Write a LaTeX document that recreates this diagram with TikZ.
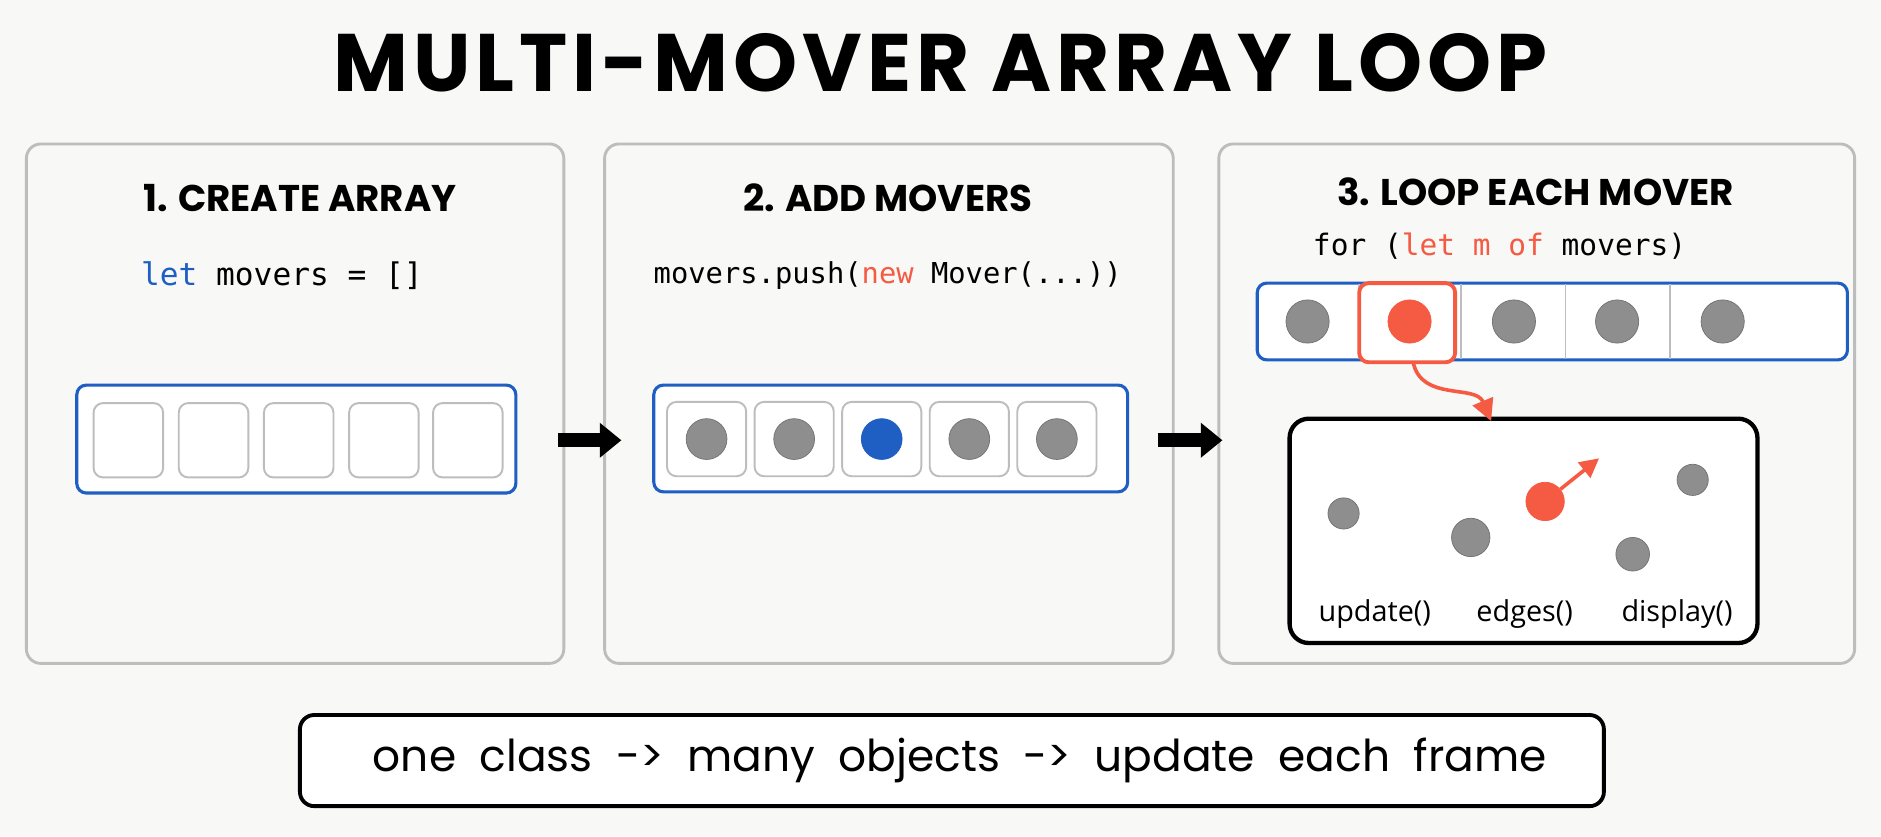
\documentclass[tikz,border=0pt]{standalone}
\usepackage{fontspec}
\setmainfont{Poppins}
\setmonofont{DejaVu Sans Mono}
\newfontfamily\lab{Open Sans}
\newfontfamily\ttl[LetterSpace=6]{Poppins}
\usetikzlibrary{arrows.meta}
\definecolor{bg}{HTML}{F8F8F6}
\definecolor{pan}{HTML}{BDBDBD}
\definecolor{blu}{HTML}{1F5FC4}
\definecolor{dotg}{HTML}{8E8E8E}
\definecolor{org}{HTML}{F55A42}
\begin{document}
\begin{tikzpicture}[x=0.5pt,y=-0.5pt,
 panel/.style={draw=pan,line width=1.2pt,rounded corners=6pt,fill=bg},
 arr/.style={draw=blu,line width=1.3pt,rounded corners=4pt,fill=white},
 cell/.style={draw=pan,line width=0.8pt,rounded corners=4pt,fill=white},
 dot/.style={circle,fill=dotg,draw=dotg!80!black,line width=0.3pt,inner sep=0pt,minimum size=#1},
 ptitle/.style={font=\fontsize{15.5}{18}\selectfont\bfseries},
 code/.style={font=\ttfamily\fontsize{13}{15}\selectfont},
 big/.style={-{Triangle[length=9pt,width=14pt]},line width=6pt,black}]
\fill[bg] (0,0) rectangle (1568,697);
\useasboundingbox (0,0) rectangle (1568,697);
\node[font=\ttl\fontsize{34}{38}\selectfont\bfseries] (title) at (784,52) {MULTI-MOVER ARRAY LOOP};
\draw[panel] (22,120) rectangle (470,553);
\draw[panel] (504,120) rectangle (978,553);
\draw[panel] (1016,120) rectangle (1546,553);
% panel 1
\node[ptitle] (t1) at (250,165) {1. CREATE ARRAY};
\node[code] (c1) at (235,230) {\textcolor{blu}{let} movers = []};
\draw[arr] (64,321) rectangle (430,411);
\foreach \x in {78,149,220,291,361}{\draw[cell] (\x,336) rectangle +(58,62);}
% panel 2
\node[ptitle] (t2) at (740,165) {2. ADD MOVERS};
\node[code,font=\ttfamily\fontsize{12}{14}\selectfont] (c2) at (740,230) {movers.push(\textcolor{org}{new} Mover(...))};
\draw[arr] (545,321) rectangle (940,410);
\foreach[count=\i] \x in {556,629,702,775,848}{
 \draw[cell] (\x,335) rectangle +(66,62);
 \ifnum\i=3 \node[dot=17pt,fill=blu,draw=blu] at (\x+33,366) {};
 \else \node[dot=17pt] at (\x+33,366) {};\fi}
\coordinate (a1s) at (465,367); \coordinate (a1e) at (518,367);
\draw[big] (a1s) -- (a1e);
\coordinate (a2s) at (965,367); \coordinate (a2e) at (1019,367);
\draw[big] (a2s) -- (a2e);
% panel 3
\node[ptitle] (t3) at (1280,160) {3. LOOP EACH MOVER};
\node[code,font=\ttfamily\fontsize{12.3}{14}\selectfont] (c3) at (1250,205) {for (\textcolor{org}{let m of} movers)};
\draw[arr] (1048,236) rectangle (1540,300);
\foreach \x in {1133,1218,1305,1392}{\draw[pan,line width=0.8pt] (\x,237) -- (\x,299);}
\draw[org,line width=1.6pt,rounded corners=4pt,fill=white] (1133,236) rectangle (1213,302);
\foreach \x in {1090,1262,1348,1436}{\node[dot=18pt] at (\x,268) {};}
\node[dot=18pt,fill=org,draw=org] (hm) at (1175,268) {};
\draw[line width=1.8pt,rounded corners=8pt,fill=white] (1075,349) rectangle (1465,536);
\coordinate (bx) at (1243,351);
\draw[org,line width=1.5pt,-{Triangle[length=9pt,width=9pt]}] (1178,302) .. controls (1185,335) and (1230,320) .. (bx);
\node[dot=13pt] (d1) at (1120,428) {};
\node[dot=16pt] (d2) at (1226,448) {};
\node[dot=16pt,fill=org,draw=org] (d3) at (1288,418) {};
\coordinate (vel) at (1333,382);
\draw[org,line width=1.5pt,-{Triangle[length=8pt,width=8pt]}] (d3) -- (vel);
\node[dot=13pt] (d4) at (1411,400) {};
\node[dot=14pt] (d5) at (1361,462) {};
\node[font=\lab\fontsize{12}{14}\selectfont] (u) at (1146,512) {update()};
\node[font=\lab\fontsize{12}{14}\selectfont] (e) at (1271,512) {edges()};
\node[font=\lab\fontsize{12}{14}\selectfont] (d) at (1398,512) {display()};
% bottom
\draw[line width=1.6pt,rounded corners=6pt,fill=white] (250,596) rectangle (1337,672);
\node[font=\fontsize{18.3}{22}\selectfont] (bt) at (800,634) {one\ \ class\ \ ->\ \ many\ \ objects\ \ ->\ \ update\ \ each\ \ frame};
\end{tikzpicture}
\end{document}
